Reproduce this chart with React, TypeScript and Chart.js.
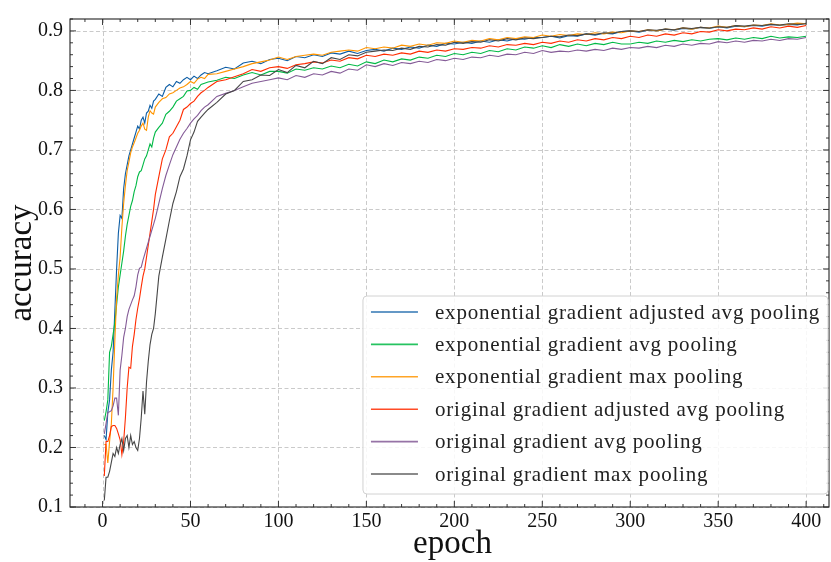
import { useEffect, useRef } from "react";
import { Chart, registerables } from "chart.js";

Chart.register(...registerables);

const epochs = [
  1, 2, 3, 4, 5, 6, 7, 8, 9, 10, 11, 12, 13, 14, 15, 16, 17, 18, 19, 20,
  21, 22, 23, 24, 25, 26, 27, 28, 29, 30,
  32, 34, 36, 38, 40, 42, 44, 46, 48, 50, 52, 54, 56, 58, 60,
  65, 70, 75, 80, 85, 90, 95, 100, 105, 110, 115, 120, 125, 130, 135, 140,
  145, 150, 155, 160, 165, 170, 175, 180, 185, 190, 195, 200, 205, 210, 215,
  220, 225, 230, 235, 240, 245, 250, 255, 260, 265, 270, 275, 280, 285, 290,
  295, 300, 305, 310, 315, 320, 325, 330, 335, 340, 345, 350, 355, 360, 365,
  370, 375, 380, 385, 390, 395, 400,
];

const expAdjAvg = [
  0.22, 0.213, 0.259, 0.28, 0.33, 0.36, 0.43, 0.5, 0.56, 0.59,
  0.585, 0.635, 0.66, 0.675, 0.69, 0.7, 0.71, 0.72, 0.73, 0.74,
  0.735, 0.75, 0.755, 0.745, 0.762, 0.765, 0.775, 0.77, 0.782, 0.785,
  0.794, 0.79, 0.805, 0.81, 0.806, 0.815, 0.812, 0.818, 0.822, 0.818, 0.824, 0.82, 0.826, 0.83, 0.828,
  0.833, 0.839, 0.836, 0.846, 0.849, 0.845, 0.852, 0.854, 0.85, 0.857,
  0.855, 0.86, 0.857, 0.863, 0.861, 0.866, 0.862, 0.867, 0.869, 0.866,
  0.871, 0.869, 0.873, 0.871, 0.876, 0.874, 0.879, 0.878, 0.881, 0.879,
  0.883, 0.881, 0.885, 0.883, 0.887, 0.886, 0.889, 0.889, 0.891, 0.888,
  0.892, 0.891, 0.895, 0.893, 0.896, 0.895, 0.899, 0.9, 0.898, 0.901,
  0.9, 0.903, 0.901, 0.904, 0.903, 0.906, 0.904, 0.907, 0.905, 0.908,
  0.907, 0.909, 0.908, 0.911, 0.909, 0.911, 0.91, 0.913,
];

const expAvg = [
  0.245, 0.26, 0.28, 0.36, 0.37, 0.39, 0.41, 0.44, 0.47, 0.49,
  0.51, 0.53, 0.555, 0.575, 0.59, 0.605, 0.615, 0.63, 0.64, 0.655,
  0.663, 0.665, 0.675, 0.685, 0.69, 0.7, 0.71, 0.705, 0.72, 0.73,
  0.738, 0.745, 0.76, 0.765, 0.772, 0.782, 0.786, 0.79, 0.799, 0.8, 0.805, 0.802, 0.81, 0.812, 0.814,
  0.817, 0.822, 0.82, 0.826, 0.83, 0.826, 0.832, 0.832, 0.829, 0.836,
  0.834, 0.838, 0.836, 0.841, 0.838, 0.844, 0.841, 0.848, 0.845, 0.851,
  0.848, 0.853, 0.851, 0.856, 0.854, 0.859, 0.857, 0.862, 0.86, 0.864,
  0.862, 0.867, 0.865, 0.87, 0.868, 0.873, 0.871, 0.875, 0.872, 0.877,
  0.874, 0.878, 0.875, 0.879, 0.877, 0.881, 0.878, 0.878, 0.881, 0.879,
  0.883, 0.881, 0.884, 0.882, 0.885, 0.883, 0.886, 0.887, 0.885, 0.888,
  0.886, 0.889, 0.887, 0.891, 0.888, 0.89, 0.889, 0.891,
];

const expMax = [
  0.205, 0.205, 0.174, 0.21, 0.24, 0.3, 0.38, 0.45, 0.49, 0.52,
  0.57, 0.61, 0.64, 0.665, 0.68, 0.695, 0.705, 0.712, 0.72, 0.728,
  0.733, 0.74, 0.745, 0.735, 0.733, 0.755, 0.766, 0.762, 0.76, 0.772,
  0.78, 0.786, 0.788, 0.794, 0.796, 0.8, 0.804, 0.806, 0.81, 0.815, 0.812, 0.819, 0.822, 0.82, 0.827,
  0.828, 0.832, 0.836, 0.84, 0.845, 0.848, 0.851, 0.856, 0.852, 0.857,
  0.859, 0.861, 0.859, 0.864, 0.866, 0.868, 0.866, 0.872, 0.87, 0.873,
  0.871, 0.876, 0.874, 0.878, 0.876, 0.88, 0.879, 0.883, 0.881, 0.884,
  0.883, 0.887, 0.885, 0.889, 0.887, 0.89, 0.889, 0.893, 0.891, 0.894,
  0.892, 0.895, 0.894, 0.897, 0.895, 0.898, 0.897, 0.9, 0.899, 0.902,
  0.9, 0.903, 0.902, 0.905, 0.903, 0.906, 0.905, 0.908, 0.906, 0.909,
  0.907, 0.91, 0.909, 0.912, 0.91, 0.911, 0.913, 0.912,
];

const origAdjAvg = [
  0.152, 0.21, 0.21, 0.22, 0.235, 0.237, 0.237, 0.232, 0.223, 0.213,
  0.188, 0.21, 0.25, 0.3, 0.335, 0.333, 0.37, 0.39, 0.415, 0.434,
  0.45, 0.47, 0.488, 0.5, 0.52, 0.54, 0.56, 0.58, 0.6, 0.625,
  0.655, 0.685, 0.7, 0.722, 0.728, 0.739, 0.75, 0.768, 0.772, 0.778, 0.782, 0.79, 0.796, 0.8, 0.805,
  0.815, 0.818, 0.823, 0.828, 0.835, 0.832, 0.838, 0.84, 0.837, 0.843,
  0.845, 0.848, 0.846, 0.851, 0.849, 0.855, 0.853, 0.859, 0.857, 0.861,
  0.859, 0.863, 0.861, 0.866, 0.864, 0.868, 0.866, 0.87, 0.869, 0.872,
  0.871, 0.875, 0.873, 0.877, 0.876, 0.879, 0.877, 0.881, 0.879, 0.883,
  0.881, 0.885, 0.883, 0.887, 0.885, 0.889, 0.887, 0.891, 0.889, 0.893,
  0.891, 0.895, 0.893, 0.897, 0.895, 0.899, 0.898, 0.902, 0.9, 0.903,
  0.902, 0.905, 0.903, 0.907, 0.905, 0.908, 0.906, 0.909,
];

const origAvg = [
  0.223, 0.24, 0.259, 0.26, 0.262, 0.27, 0.283, 0.283, 0.254, 0.33,
  0.355, 0.385, 0.4, 0.42, 0.432, 0.44, 0.448, 0.455, 0.47, 0.49,
  0.501, 0.503, 0.515, 0.525, 0.535, 0.545, 0.555, 0.565, 0.575, 0.585,
  0.61, 0.635, 0.657, 0.675, 0.692, 0.705, 0.718, 0.728, 0.736, 0.745, 0.752, 0.758, 0.766, 0.772, 0.776,
  0.79, 0.795, 0.8, 0.806, 0.812, 0.815, 0.818, 0.821, 0.818, 0.825,
  0.822, 0.828, 0.826, 0.832, 0.829, 0.836, 0.834, 0.843, 0.84, 0.845,
  0.842, 0.847, 0.845, 0.849, 0.847, 0.852, 0.85, 0.854, 0.852, 0.856,
  0.855, 0.859, 0.857, 0.861, 0.86, 0.864, 0.862, 0.867, 0.864, 0.866,
  0.865, 0.868, 0.866, 0.869, 0.867, 0.871, 0.869, 0.872, 0.871, 0.874,
  0.872, 0.876, 0.874, 0.878, 0.876, 0.879, 0.878, 0.882, 0.88, 0.883,
  0.881, 0.884, 0.883, 0.886, 0.884, 0.887, 0.886, 0.889,
];

const origMax = [
  0.111, 0.15, 0.15, 0.16, 0.175, 0.19, 0.185, 0.2, 0.19, 0.205,
  0.215, 0.195, 0.215, 0.22, 0.2, 0.22, 0.205, 0.21, 0.2, 0.195,
  0.215, 0.25, 0.295, 0.256, 0.31, 0.345, 0.373, 0.39, 0.4, 0.425,
  0.488, 0.52, 0.55, 0.581, 0.61, 0.63, 0.655, 0.668, 0.69, 0.717, 0.73, 0.748, 0.755, 0.762, 0.768,
  0.78, 0.794, 0.8, 0.815, 0.818, 0.826, 0.825, 0.835, 0.83, 0.842,
  0.838, 0.849, 0.845, 0.855, 0.852, 0.86, 0.858, 0.864, 0.866, 0.868,
  0.867, 0.871, 0.869, 0.874, 0.873, 0.877, 0.876, 0.881, 0.879, 0.882,
  0.881, 0.885, 0.883, 0.887, 0.885, 0.888, 0.887, 0.889, 0.891, 0.89,
  0.893, 0.892, 0.895, 0.894, 0.897, 0.896, 0.899, 0.9, 0.899, 0.902,
  0.901, 0.903, 0.902, 0.905, 0.904, 0.906, 0.905, 0.907, 0.906, 0.909,
  0.908, 0.91, 0.909, 0.911, 0.91, 0.912, 0.911, 0.912,
];

const seriesNames = [
  "exponential gradient adjusted avg pooling",
  "exponential gradient avg pooling",
  "exponential gradient max pooling",
  "original gradient adjusted avg pooling",
  "original gradient avg pooling",
  "original gradient max pooling",
];
const seriesColors = ["#0C5DA5", "#00B945", "#FF9500", "#FF2C00", "#845B97", "#474747"];

const xLabel = "epoch";
const yLabel = "accuracy";
const FONT = "'Liberation Serif', 'DejaVu Serif', serif";

export default function App() {
  const ref = useRef<HTMLCanvasElement>(null);

  useEffect(() => {
    document.body.style.margin = "0";
    const canvas = ref.current;
    if (!canvas) return;
    const series = [expAdjAvg, expAvg, expMax, origAdjAvg, origAvg, origMax];

    const deco = {
      id: "deco",
      beforeDatasetsDraw(chart: any) {
        const { ctx, chartArea: a, scales } = chart;
        ctx.save();
        ctx.strokeStyle = "#c4c4c4";
        ctx.lineWidth = 0.9;
        ctx.setLineDash([4, 2.5]);
        scales.x.ticks.forEach((t: any) => {
          const px = Math.round(scales.x.getPixelForValue(t.value)) + 0.5;
          ctx.beginPath();
          ctx.moveTo(px, a.top);
          ctx.lineTo(px, a.bottom);
          ctx.stroke();
        });
        scales.y.ticks.forEach((t: any) => {
          const py = Math.round(scales.y.getPixelForValue(t.value)) + 0.5;
          ctx.beginPath();
          ctx.moveTo(a.left, py);
          ctx.lineTo(a.right, py);
          ctx.stroke();
        });
        ctx.restore();
      },
      afterDatasetsDraw(chart: any) {
        const { ctx, chartArea: a, scales } = chart;
        ctx.save();
        // frame
        ctx.strokeStyle = "#222";
        ctx.lineWidth = 1.1;
        ctx.strokeRect(a.left, a.top, a.right - a.left, a.bottom - a.top);
        // inward ticks
        ctx.lineWidth = 0.9;
        const xs = scales.x;
        const ys = scales.y;
        const tickX = (v: number, len: number) => {
          const px = xs.getPixelForValue(v);
          if (px < a.left || px > a.right) return;
          ctx.beginPath();
          ctx.moveTo(px, a.bottom);
          ctx.lineTo(px, a.bottom - len);
          ctx.moveTo(px, a.top);
          ctx.lineTo(px, a.top + len);
          ctx.stroke();
        };
        const tickY = (v: number, len: number) => {
          const py = ys.getPixelForValue(v);
          if (py < a.top - 0.5 || py > a.bottom + 0.5) return;
          ctx.beginPath();
          ctx.moveTo(a.left, py);
          ctx.lineTo(a.left + len, py);
          ctx.moveTo(a.right, py);
          ctx.lineTo(a.right - len, py);
          ctx.stroke();
        };
        for (let v = -10; v <= 410; v += 10) tickX(v, v % 50 === 0 ? 6 : 3);
        for (let k = 5; k <= 46; k++) tickY(k * 0.02, k % 5 === 0 ? 6 : 3);

        // axis titles
        ctx.fillStyle = "#111";
        ctx.font = `33px ${FONT}`;
        ctx.textAlign = "center";
        ctx.textBaseline = "alphabetic";
        ctx.fillText(xLabel, (a.left + a.right) / 2 + 3, 553);
        ctx.save();
        ctx.translate(31, (a.top + a.bottom) / 2);
        ctx.rotate(-Math.PI / 2);
        ctx.fillText(yLabel, 0, 0);
        ctx.restore();

        // legend
        ctx.font = `21px ${FONT}`;
        (ctx as any).letterSpacing = "0.8px";
        let maxW = 0;
        seriesNames.forEach((n) => {
          maxW = Math.max(maxW, ctx.measureText(n).width);
        });
        const right = a.right - 1;
        const bottom = a.bottom - 13;
        const height = 198;
        const top = bottom - height;
        const left = right - (72 + maxW + 8);
        ctx.beginPath();
        ctx.roundRect(left, top, right - left, height, 4);
        ctx.fillStyle = "rgba(255,255,255,0.85)";
        ctx.fill();
        ctx.strokeStyle = "#d2d2d2";
        ctx.lineWidth = 1;
        ctx.stroke();
        ctx.textAlign = "left";
        ctx.textBaseline = "middle";
        seriesNames.forEach((n, i) => {
          const cy = top + 16 + i * 32.4;
          ctx.strokeStyle = seriesColors[i];
          ctx.globalAlpha = 0.85;
          ctx.lineWidth = 1.6;
          ctx.beginPath();
          ctx.moveTo(left + 8, cy);
          ctx.lineTo(left + 55, cy);
          ctx.stroke();
          ctx.globalAlpha = 1;
          ctx.fillStyle = "#222";
          ctx.fillText(n, left + 72, cy + 1);
        });
        (ctx as any).letterSpacing = "0px";
        ctx.restore();
      },
    };

    const chart = new Chart(canvas, {
      type: "line",
      data: {
        datasets: series.map((s, i) => ({
          label: seriesNames[i],
          data: epochs.map((e, j) => ({ x: e, y: s[j] })),
          borderColor: seriesColors[i],
          backgroundColor: seriesColors[i],
          borderWidth: 1.1,
          pointRadius: 0,
          fill: false,
          tension: 0,
          order: 5 - i,
        })),
      },
      options: {
        animation: false,
        responsive: false,
        maintainAspectRatio: false,
        layout: { padding: { top: 6, right: 2, left: 0, bottom: 0 } },
        plugins: { legend: { display: false }, tooltip: { enabled: false } },
        scales: {
          x: {
            type: "linear",
            min: -18.5,
            max: 413,
            grid: { display: false, drawTicks: false },
            border: { display: false },
            ticks: {
              stepSize: 50,
              includeBounds: false,
              autoSkip: false,
              maxRotation: 0,
              padding: 3,
              color: "#111",
              font: { family: FONT, size: 20 },
            },
            afterFit: (s: any) => {
              s.height = 55;
            },
          },
          y: {
            type: "linear",
            min: 0.1,
            max: 0.92,
            grid: { display: false, drawTicks: false },
            border: { display: false },
            ticks: {
              stepSize: 0.1,
              includeBounds: false,
              autoSkip: false,
              padding: 7,
              color: "#111",
              font: { family: FONT, size: 20 },
              callback: (v: any) => Number(v).toFixed(1),
            },
            afterFit: (s: any) => {
              s.width = 70;
            },
          },
        },
      },
      plugins: [deco],
    } as any);

    return () => chart.destroy();
  }, []);

  return (
    <div style={{ width: 831, height: 562 }}>
      <canvas ref={ref} width={831} height={562} style={{ display: "block", width: 831, height: 562 }} />
    </div>
  );
}
